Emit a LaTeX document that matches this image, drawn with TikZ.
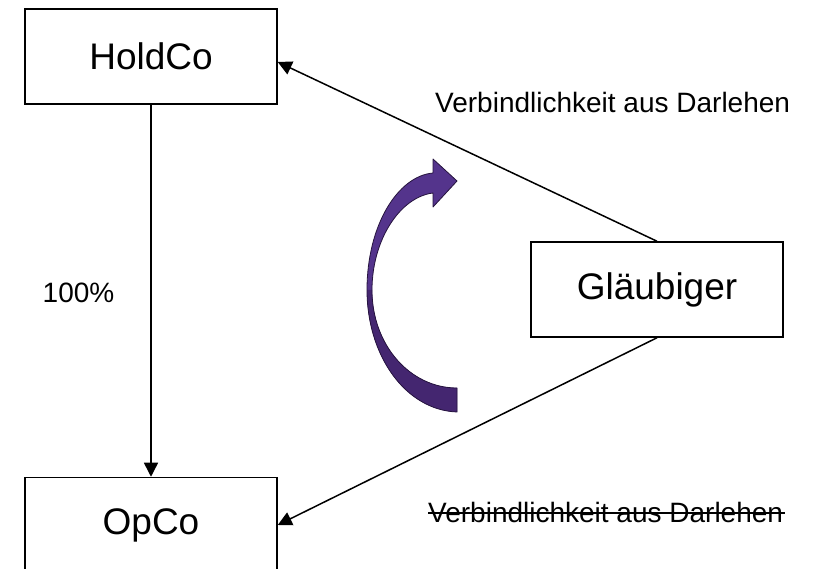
\documentclass[tikz,border=0pt]{standalone}
\usepackage{fontspec}
\setmainfont{Liberation Sans}
\usetikzlibrary{arrows.meta, positioning}
\definecolor{arrowpurple}{RGB}{84,52,140}
\definecolor{arrowshade}{RGB}{68,38,112}
\definecolor{arrowedge}{RGB}{38,20,62}

\begin{document}
\begin{tikzpicture}[
        x=1pt, y=-1pt,
        box/.style={rectangle, draw=black, line width=1.5pt, minimum width=252pt, minimum height=95pt, inner sep=0pt, align=center, font=\fontsize{37}{44}\selectfont},
        lbl/.style={inner sep=0pt, font=\fontsize{28}{34}\selectfont},
        conn/.style={line width=1.5pt, -{Triangle[length=14pt, width=14pt]}}
    ]
        \useasboundingbox (0,0) rectangle (815,569);

        \node[box] (holdco) at (151,56.5) {HoldCo};
        \node[box, below=372pt of holdco] (opco) {OpCo};
        \node[box] (glaeubiger) at (657,289.5) {Gläubiger};

        \node[lbl, anchor=base west] (vdtop) at (435,113) {Verbindlichkeit aus Darlehen};
        \node[lbl, anchor=base west] (vdbottom) at (428,522) {Verbindlichkeit aus Darlehen};
        \node[lbl, anchor=base] (share) at (78.5,303) {100\%};

        % strike-through of the old liability
        \draw[line width=1.5pt] ([yshift=9pt]vdbottom.base west) -- ([yshift=9pt, xshift=2pt]vdbottom.base east);

        \draw[conn] (holdco.south) -- (opco.north);
        \draw[conn] (glaeubiger.north) -- ([yshift=-5.5pt]holdco.east);
        \draw[conn] (glaeubiger.south) -- (opco.east);

        % curved purple arrow
        \fill[arrowpurple] (457,412) .. controls (405,410) and (367,355) .. (367,290)
            .. controls (367,225) and (398,176) .. (433,173) -- (433,159) -- (457,181) -- (433,207) -- (433,193)
            .. controls (400,197) and (372,240) .. (372,290)
            .. controls (372,345) and (410,388) .. (457,388) -- cycle;
        \begin{scope}
            \clip (360,290) rectangle (470,420);
            \fill[arrowshade] (457,412) .. controls (405,410) and (367,355) .. (367,290)
                -- (372,290) .. controls (372,345) and (410,388) .. (457,388) -- cycle;
        \end{scope}
        \draw[arrowedge, line width=0.8pt, line join=round] (457,412) .. controls (405,410) and (367,355) .. (367,290)
            .. controls (367,225) and (398,176) .. (433,173) -- (433,159) -- (457,181) -- (433,207) -- (433,193)
            .. controls (400,197) and (372,240) .. (372,290)
            .. controls (372,345) and (410,388) .. (457,388) -- cycle;
    \end{tikzpicture}
\end{document}
